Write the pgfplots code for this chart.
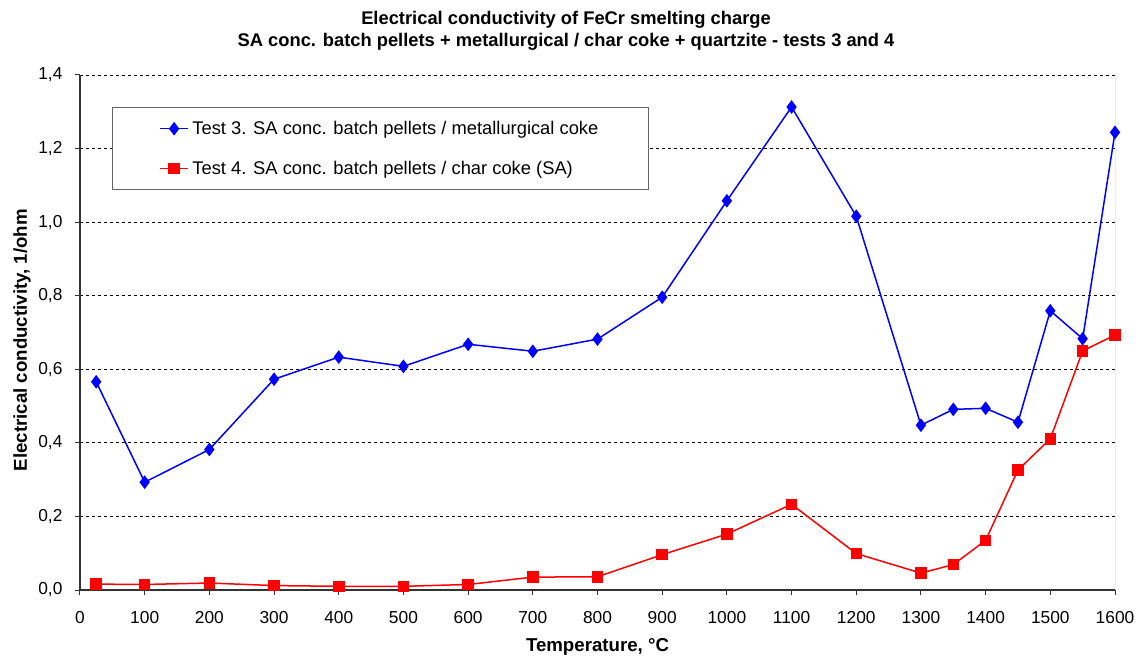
\documentclass[border=0pt]{standalone}
\usepackage{pgfplots}
\pgfplotsset{compat=1.18}
\usepackage{fontspec}
\setmainfont{Liberation Sans}

% px -> pt: 1px = 0.6pt
\pgfplotstableread{
T     G
25    0.566
100   0.293
200   0.382
300   0.573
400   0.633
500   0.608
600   0.668
700   0.649
800   0.682
900   0.796
1000  1.058
1100  1.313
1200  1.016
1300  0.448
1350  0.491
1400  0.494
1450  0.456
1500  0.759
1550  0.683
1600  1.244
}\testthree

\pgfplotstableread{
T     G
25    0.016
100   0.015
200   0.019
300   0.012
400   0.010
500   0.010
600   0.015
700   0.035
800   0.036
900   0.096
1000  0.152
1100  0.233
1200  0.099
1300  0.046
1350  0.069
1400  0.135
1450  0.326
1500  0.411
1550  0.650
1600  0.693
}\testfour

\begin{document}
\begin{tikzpicture}
\begin{axis}[
  scale only axis,
  width=621pt, height=309pt,
  xmin=0, xmax=1600, ymin=0, ymax=1.4,
  xtick distance=100, ytick distance=0.2,
  axis x line*=bottom, axis y line*=left,
  axis line style={-, line width=0.9pt, black!80},
  tick align=outside, major tick length=3pt,
  tick style={black!80, line width=0.6pt},
  ymajorgrids=true,
  major grid style={dashed, black, line width=0.45pt, dash pattern=on 2pt off 1.6pt},
  /pgf/number format/assume math mode=true,
  ticklabel style={font=\fontsize{10.4}{12}\selectfont},
  xticklabel style={/pgf/number format/.cd, fixed, 1000 sep={}, /tikz/.cd, yshift=-6.5pt},
  yticklabel style={/pgf/number format/.cd, fixed, fixed zerofill, precision=1, use comma, /tikz/.cd, xshift=-4pt},
  scaled y ticks=false,
  xlabel={\bfseries Temperature, °C},
  ylabel={\bfseries Electrical conductivity, 1/ohm},
  label style={font=\fontsize{11.2}{13}\selectfont},
  xlabel style={at={(axis description cs:0.5,-0.111)}, anchor=center},
  ylabel style={at={(axis description cs:-0.056,0.485)}, anchor=center},
  title={\bfseries Electrical conductivity of FeCr smelting charge\\ \bfseries SA conc. batch pellets + metallurgical / char coke + quartzite - tests 3 and 4},
  title style={font=\fontsize{11}{13.2}\selectfont, align=center, at={(axis description cs:0.4696,1.0893)}, anchor=center, yshift=-7pt},
  legend style={at={(rel axis cs:0,1)}, anchor=north west, xshift=19.2pt, yshift=-19.2pt,
    draw=black!60, line width=0.6pt, inner xsep=28pt, inner ysep=6pt,
    row sep=10.5pt, font=\fontsize{11}{13}\selectfont},
  legend cell align=left,
]
\addplot[blue, line width=0.9pt, mark=diamond*, mark size=3.4pt, mark options={solid}] table[x=T, y=G] {\testthree};
\addlegendentry{Test 3. SA conc. batch pellets / metallurgical coke}
\addplot[red, line width=0.9pt, mark=square*, mark size=3pt, mark options={solid}] table[x=T, y=G] {\testfour};
\addlegendentry{Test 4. SA conc. batch pellets / char coke (SA)}
\draw[black!55, line width=0.6pt] (rel axis cs:1,0) -- (rel axis cs:1,1);
\end{axis}
\pgfresetboundingbox
\path (current axis.south west) ++(-48pt,-42pt) rectangle ++(684.6pt,396pt);
\end{tikzpicture}
\end{document}
